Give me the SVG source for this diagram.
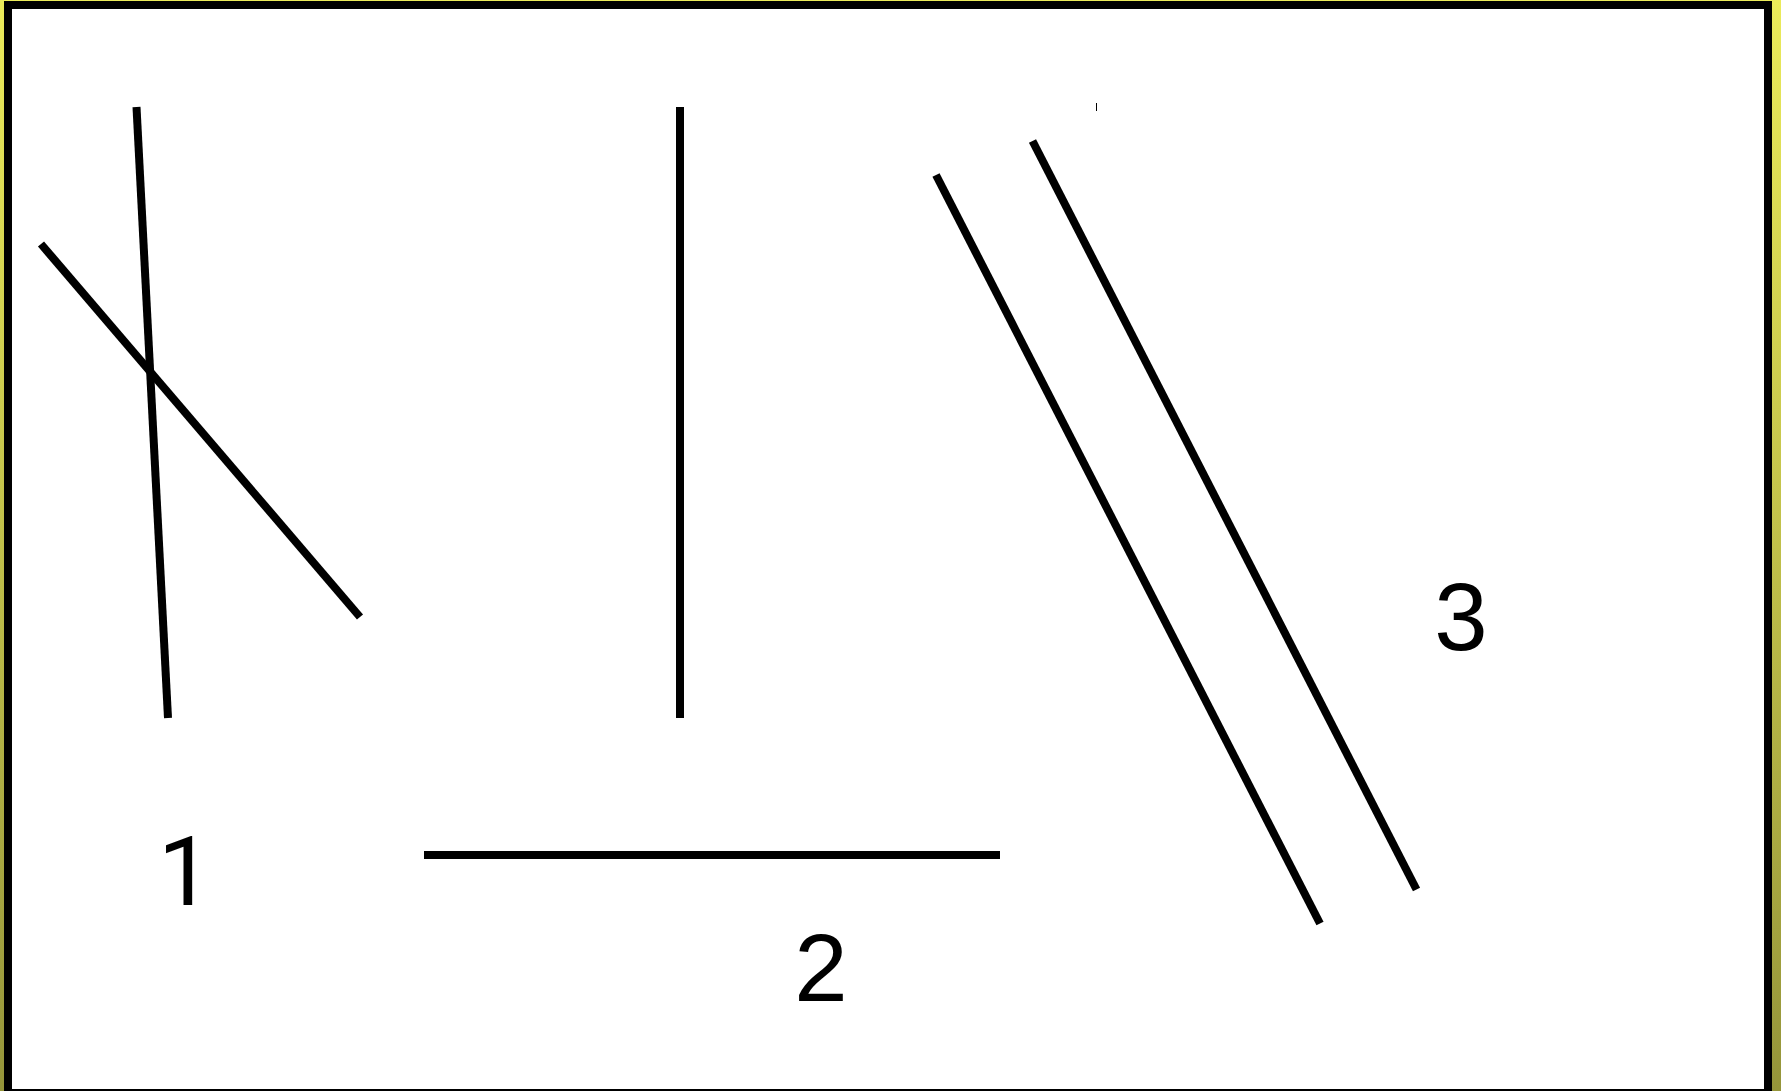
<svg xmlns="http://www.w3.org/2000/svg" width="1781" height="1091" viewBox="0 0 1781 1091">
<defs>
<linearGradient id="bg" x1="0" y1="0" x2="0" y2="1">
<stop offset="0" stop-color="#ebeb5a"/>
<stop offset="1" stop-color="#95953a"/>
</linearGradient>
<style>
.ln{stroke:#000;stroke-width:8;fill:none;stroke-linecap:butt}
.lbl{font-family:"Liberation Sans",Arial,sans-serif;font-size:96px;fill:#000}
.one{font-family:Roboto,"Liberation Sans",sans-serif}
</style>
</defs>
<rect x="0" y="0" width="1781" height="1091" fill="url(#bg)"/>
<rect id="frame" x="8" y="5" width="1760" height="1088" fill="#fff" stroke="#000" stroke-width="8"/>
<g id="connectors">
<line class="ln" x1="136.5" y1="107" x2="168" y2="718"/>
<line class="ln" x1="41" y1="244" x2="360" y2="617"/>
<line class="ln" x1="680" y1="107" x2="680" y2="718"/>
<line class="ln" x1="424" y1="855" x2="1000" y2="855"/>
<line class="ln" x1="936" y1="175" x2="1320" y2="923.5"/>
<line class="ln" x1="1032.5" y1="141" x2="1416.5" y2="889.5"/>
<line x1="1096.5" y1="103" x2="1096.5" y2="111" stroke="#000" stroke-width="1"/>
</g>
<g id="label1"><text class="lbl one" x="185" y="905" text-anchor="middle">1</text></g>
<g id="label2"><text class="lbl" x="821" y="1001" text-anchor="middle">2</text></g>
<g id="label3"><text class="lbl" x="1461" y="650" text-anchor="middle">3</text></g>
</svg>
